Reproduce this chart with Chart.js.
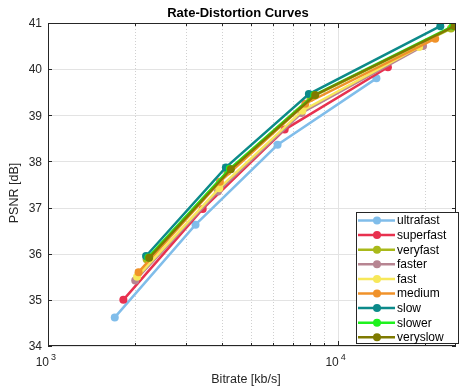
<!DOCTYPE html>
<html>
<head>
<meta charset="utf-8">
<script src="https://cdn.jsdelivr.net/npm/chart.js@4.4.1/dist/chart.umd.min.js"></script>
<style>
  body { margin: 0; background: #fff; }
  #wrap { width: 460px; height: 388px; }
</style>
</head>
<body>
<div id="wrap"><canvas id="rdChart" width="460" height="388"></canvas></div>
<script>
// Presets and their rate-distortion points (bitrate kb/s, PSNR dB)
const presets = ['ultrafast', 'superfast', 'veryfast', 'faster', 'fast', 'medium', 'slow', 'slower', 'veryslow'];

const ultrafastRate = [1700, 3230, 6200, 13600];
const ultrafastPsnr = [34.62, 36.63, 38.36, 39.80];
const superfastRate = [1820, 3420, 6560, 14900];
const superfastPsnr = [35.00, 36.97, 38.69, 40.04];
const veryfastRate = [2190, 4160, 8050, 24600];
const veryfastPsnr = [35.88, 37.78, 39.38, 40.88];
const fasterRate = [2000, 3860, 7500, 19700];
const fasterPsnr = [35.42, 37.35, 39.05, 40.50];
const fastRate = [2030, 3900, 7550, 19100];
const fastPsnr = [35.50, 37.42, 39.10, 40.48];
const mediumRate = [2054, 3920, 7730, 21700];
const mediumPsnr = [35.60, 37.56, 39.25, 40.66];
const slowRate = [2180, 4110, 7950, 22600];
const slowPsnr = [35.95, 37.87, 39.46, 40.93];
const slowerRate = [2220, 4240, 8300, 25000];
const slowerPsnr = [35.92, 37.84, 39.44, 40.93];
const veryslowRate = [2234, 4276, 8360, 25300];
const veryslowPsnr = [35.91, 37.83, 39.44, 40.93];

const rates = [ultrafastRate, superfastRate, veryfastRate, fasterRate, fastRate, mediumRate, slowRate, slowerRate, veryslowRate];
const psnrs = [ultrafastPsnr, superfastPsnr, veryfastPsnr, fasterPsnr, fastPsnr, mediumPsnr, slowPsnr, slowerPsnr, veryslowPsnr];

const colors = ['#80bdea', '#e8314f', '#a9b91a', '#b78592', '#f7e85a', '#f0922a', '#0c8a8a', '#1ef21e', '#7f7a00'];

const xMin = 1000, xMax = 25600;
const yMin = 34, yMax = 41;
const yTicks = [34, 35, 36, 37, 38, 39, 40, 41];
const xMajor = [1000, 10000];
const xMinor = [2000, 3000, 4000, 5000, 6000, 7000, 8000, 9000, 20000];

const FONT = '"Liberation Sans", Arial, Helvetica, sans-serif';
const AXIS_COLOR = '#262626';

// Grid, ticks, box, labels drawn MATLAB style
const axesPlugin = {
  id: 'matlabAxes',
  beforeDatasetsDraw(chart) {
    const { ctx, chartArea: a, scales: { x, y } } = chart;
    ctx.save();
    ctx.lineWidth = 1;
    // minor x grid (dotted)
    ctx.strokeStyle = '#d0d0d0';
    ctx.setLineDash([1, 2]);
    xMinor.forEach(v => {
      const px = Math.round(x.getPixelForValue(v)) + 0.5;
      ctx.beginPath(); ctx.moveTo(px, a.top); ctx.lineTo(px, a.bottom); ctx.stroke();
    });
    ctx.setLineDash([]);
    // major grid
    ctx.strokeStyle = '#e3e3e3';
    xMajor.forEach(v => {
      const px = Math.round(x.getPixelForValue(v)) + 0.5;
      ctx.beginPath(); ctx.moveTo(px, a.top); ctx.lineTo(px, a.bottom); ctx.stroke();
    });
    yTicks.forEach(v => {
      const py = Math.round(y.getPixelForValue(v)) + 0.5;
      ctx.beginPath(); ctx.moveTo(a.left, py); ctx.lineTo(a.right, py); ctx.stroke();
    });
    ctx.restore();
  },
  afterDatasetsDraw(chart) {
    const { ctx, chartArea: a, scales: { x, y } } = chart;
    ctx.save();
    ctx.strokeStyle = AXIS_COLOR;
    ctx.lineWidth = 1;
    ctx.strokeRect(Math.round(a.left) + 0.5, Math.round(a.top) + 0.5,
      Math.round(a.right - a.left) - 1, Math.round(a.bottom - a.top) - 1);

    // ticks
    ctx.beginPath();
    yTicks.forEach(v => {
      const py = Math.round(y.getPixelForValue(v)) + 0.5;
      ctx.moveTo(a.left, py); ctx.lineTo(a.left + 4, py);
      ctx.moveTo(a.right, py); ctx.lineTo(a.right - 4, py);
    });
    xMajor.forEach(v => {
      const px = Math.round(x.getPixelForValue(v)) + 0.5;
      ctx.moveTo(px, a.bottom); ctx.lineTo(px, a.bottom - 5);
      ctx.moveTo(px, a.top); ctx.lineTo(px, a.top + 5);
    });
    xMinor.forEach(v => {
      const px = Math.round(x.getPixelForValue(v)) + 0.5;
      ctx.moveTo(px, a.bottom); ctx.lineTo(px, a.bottom - 3);
      ctx.moveTo(px, a.top); ctx.lineTo(px, a.top + 3);
    });
    ctx.stroke();

    // y tick labels
    ctx.fillStyle = AXIS_COLOR;
    ctx.font = '12px ' + FONT;
    ctx.textAlign = 'right';
    ctx.textBaseline = 'middle';
    yTicks.forEach(v => {
      ctx.fillText(String(v), a.left - 6, y.getPixelForValue(v) + 1);
    });

    // x tick labels 10^n
    xMajor.forEach(v => {
      const px = x.getPixelForValue(v);
      ctx.font = '12px ' + FONT;
      ctx.textAlign = 'right';
      ctx.fillText('10', px + 1, 363);
      ctx.font = '9px ' + FONT;
      ctx.textAlign = 'left';
      ctx.fillText(String(Math.round(Math.log10(v))), px + 3, 358);
    });

    // axis titles
    ctx.font = '12.5px ' + FONT;
    ctx.textAlign = 'center';
    ctx.fillText('Bitrate [kb/s]', 246, 380);
    ctx.save();
    ctx.translate(15, 193);
    ctx.rotate(-Math.PI / 2);
    ctx.fillText('PSNR [dB]', 0, 0);
    ctx.restore();

    // title
    ctx.fillStyle = '#000';
    ctx.font = 'bold 13px ' + FONT;
    ctx.fillText('Rate-Distortion Curves', 238, 13);

    // legend
    const lx = 356, ly = 212, lw = 102, lh = 131, step = 14.6;
    ctx.fillStyle = '#fff';
    ctx.fillRect(lx, ly, lw, lh);
    ctx.strokeStyle = AXIS_COLOR;
    ctx.strokeRect(lx + 0.5, ly + 0.5, lw, lh);
    chart.data.datasets.forEach((ds, i) => {
      const cy = ly + 8.5 + i * step;
      ctx.strokeStyle = ds.borderColor;
      ctx.lineWidth = 2.5;
      ctx.beginPath(); ctx.moveTo(lx + 2, cy); ctx.lineTo(lx + 39, cy); ctx.stroke();
      ctx.fillStyle = ds.borderColor;
      ctx.beginPath(); ctx.arc(lx + 21, cy, 4, 0, Math.PI * 2); ctx.fill();
      ctx.fillStyle = '#000';
      ctx.font = '12px ' + FONT;
      ctx.textAlign = 'left';
      ctx.fillText(ds.label, lx + 41, cy + 0.5);
    });
    ctx.restore();
  }
};

const datasets = presets.map((name, i) => ({
  label: name,
  data: rates[i].map((r, k) => ({ x: r, y: psnrs[i][k] })),
  borderColor: colors[i],
  backgroundColor: colors[i],
  pointBackgroundColor: colors[i],
  pointBorderWidth: 0,
  pointRadius: 4,
  borderWidth: 2.5,
  tension: 0,
  fill: false,
  order: -i
}));

new Chart(document.getElementById('rdChart'), {
  type: 'line',
  data: { datasets },
  plugins: [axesPlugin],
  options: {
    responsive: false,
    animation: false,
    layout: { padding: { left: 48, right: 1, top: 23, bottom: 42 } },
    plugins: {
      legend: { display: false },
      title: { display: false },
      tooltip: { enabled: false }
    },
    scales: {
      x: { type: 'logarithmic', min: xMin, max: xMax, display: false },
      y: { type: 'linear', min: yMin, max: yMax, display: false }
    }
  }
});
</script>
</body>
</html>
